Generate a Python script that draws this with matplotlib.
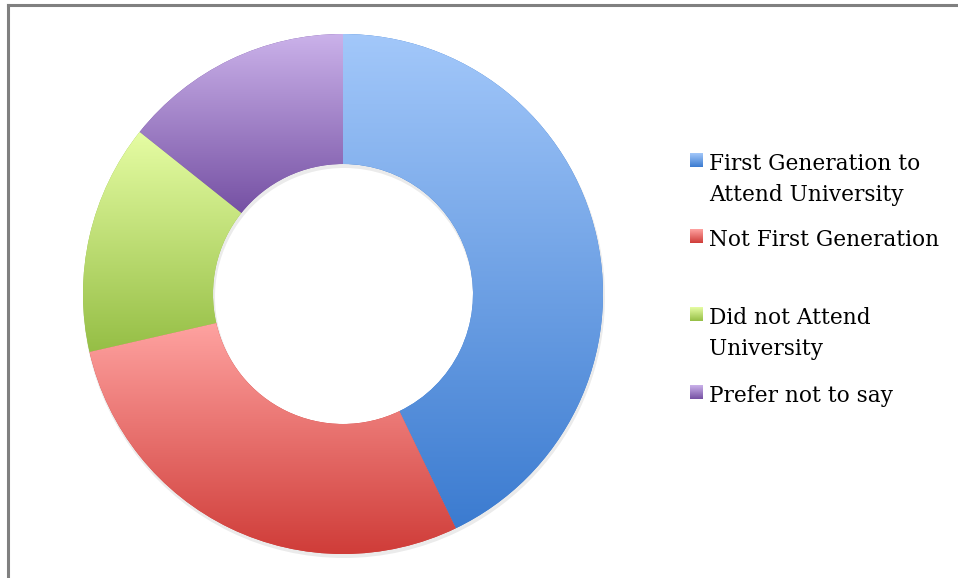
import numpy as np
import matplotlib
matplotlib.use("Agg")
import matplotlib.pyplot as plt
from matplotlib.colors import LinearSegmentedColormap

# Data
categories = ["First Generation to\nAttend University", "Not First Generation",
              "Did not Attend\nUniversity", "Prefer not to say"]
values = [6, 4, 2, 2]
# gradient (top, bottom) colors per category
top_colors = ["#A3C8FA", "#FFA3A1", "#E6FDA4", "#CBB2EA"]
bottom_colors = ["#3B7BD0", "#CF3C38", "#95BE45", "#7550A3"]

W, H = 958, 578
fig = plt.figure(figsize=(W / 100, H / 100), dpi=100)
ax = fig.add_axes([0, 0, 1, 1])

cx, cy = 343, H - 294
R = 260

# subtle shadow
sh, _ = ax.pie(values, radius=R + 1, center=(cx + 1, cy - 3), startangle=90, counterclock=False,
               colors=["#000000"] * len(values), frame=True,
               wedgeprops=dict(width=R / 2 + 2, linewidth=0, alpha=0.08))
for w in sh:
    w.set_zorder(0.5)

wedges, _ = ax.pie(values, radius=R, center=(cx, cy), startangle=90, counterclock=False,
                   colors=bottom_colors, frame=True,
                   wedgeprops=dict(width=R / 2, linewidth=0))

grad = np.linspace(0, 1, 256).reshape(-1, 1)
for w, c0, c1 in zip(wedges, top_colors, bottom_colors):
    w.set_zorder(1)
    ext = w.get_path().get_extents()
    cmap = LinearSegmentedColormap.from_list("g", [c1, c0])
    im = ax.imshow(grad, cmap=cmap, origin="lower", aspect="auto",
                   extent=[ext.x0 - 1, ext.x1 + 1, ext.y0 - 1, ext.y1 + 1], zorder=2,
                   interpolation="bilinear")
    im.set_clip_path(w)

# legend (manual)
baselines = [170, 246, 324, 402]
line_gap = 31
for lab, b, c0, c1 in zip(categories, baselines, top_colors, bottom_colors):
    yb = H - b
    cmap = LinearSegmentedColormap.from_list("g", [c1, c0])
    ax.imshow(grad, cmap=cmap, origin="lower", aspect="auto",
              extent=[690, 703, yb + 3, yb + 17], zorder=3)
    for i, line in enumerate(lab.split("\n")):
        ax.text(709, yb - i * line_gap, line, fontsize=15.6, family=["DejaVu Serif"],
                va="baseline", ha="left", color="#000000")

ax.set_xlim(0, W)
ax.set_ylim(0, H)
ax.set_aspect("equal")
ax.axis("off")

# frame border (top and left)
fig.add_artist(plt.Line2D([7.5 / W, 1], [1 - 5 / H, 1 - 5 / H], color="#808080", lw=2.2,
                          transform=fig.transFigure))
fig.add_artist(plt.Line2D([7.5 / W, 7.5 / W], [0, 1 - 5 / H], color="#808080", lw=2.2,
                          transform=fig.transFigure))

fig.savefig("out.png", dpi=100, facecolor="white")
